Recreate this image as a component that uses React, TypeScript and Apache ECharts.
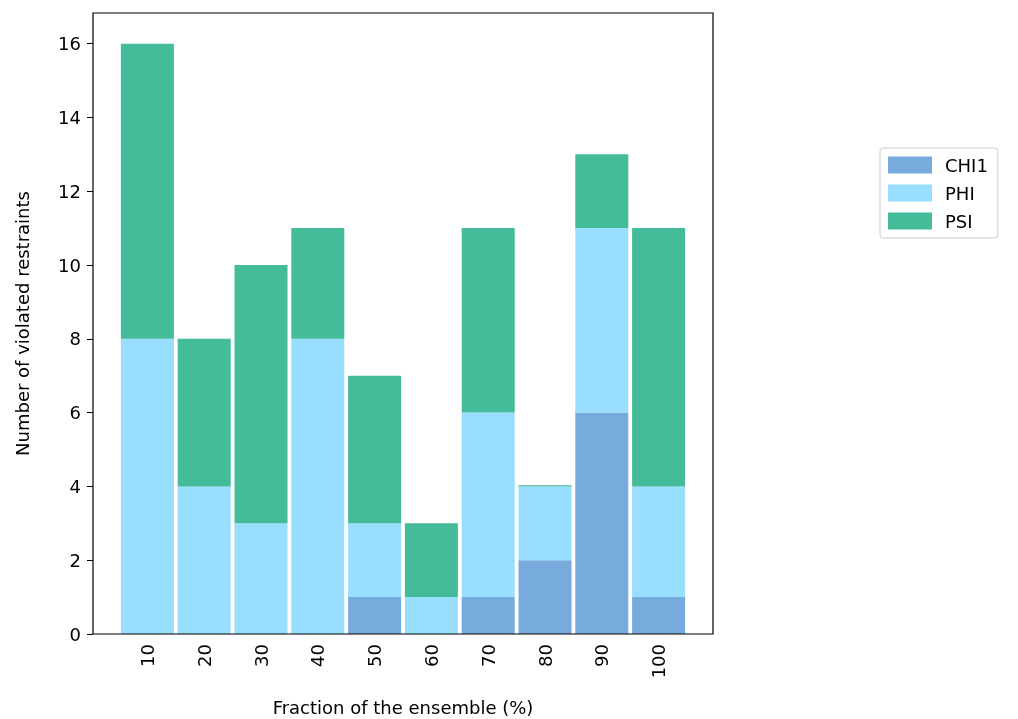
import React, { useEffect, useRef } from "react";
import * as echarts from "echarts";

const fractions = ["10", "20", "30", "40", "50", "60", "70", "80", "90", "100"];
const chi1 = [0, 0, 0, 0, 1, 0, 1, 2, 6, 1];
const phi = [8, 4, 3, 8, 2, 1, 5, 2, 5, 3];
const psi = [8, 4, 7, 3, 4, 2, 5, 0.03, 2, 7];
const xTitle = "Fraction of the ensemble (%)";

export default function App() {
  const ref = useRef<HTMLDivElement>(null);
  useEffect(() => {
    const chart = echarts.init(ref.current!, undefined, { renderer: "svg" });
    const font = "DejaVu Sans";
    const mk = (name: string, vals: number[], color: string) => ({
      name, type: "bar", stack: "s", barWidth: 53,
      data: vals,
      itemStyle: { color },
    });
    chart.setOption({
      animation: false,
      textStyle: { fontFamily: font },
      grid: { left: 119, top: 13, width: 568, height: 621, outerBoundsMode: "none", containLabel: false },
      xAxis: {
        type: "category", data: fractions,
        axisLine: { show: false },
        axisTick: { alignWithLabel: true, length: 6, lineStyle: { color: "#000" } },
        axisLabel: { rotate: 90, fontSize: 18, color: "#000", margin: 10, fontFamily: font },
      },
      yAxis: {
        type: "value", min: 0, max: 16.83, interval: 2, offset: 26,
        name: "Number of violated restraints", nameLocation: "middle", nameGap: 62,
        nameTextStyle: { fontSize: 18, color: "#000", fontFamily: font },
        splitLine: { show: false },
        axisLine: { show: false },
        axisTick: { show: true, length: 6, lineStyle: { color: "#000" } },
        axisLabel: { fontSize: 18, color: "#000", margin: 12, fontFamily: font, showMaxLabel: false },
      },
      graphic: [
        { type: "rect", shape: { x: 93, y: 13, width: 620, height: 621 }, style: { fill: "none", stroke: "#000", lineWidth: 1.2 }, z: 10 },
        { type: "text", x: 403, y: 707, style: { text: xTitle, fontSize: 18, fontFamily: font, fill: "#000", align: "center", verticalAlign: "middle" } },
      ],
      legend: {
        orient: "vertical", left: 880, top: 148, icon: "rect", itemWidth: 44, itemHeight: 17, itemGap: 10,
        padding: [8, 10, 8, 8], borderColor: "#ccc", borderWidth: 1, borderRadius: 3,
        textStyle: { fontSize: 18, color: "#000", fontFamily: font, padding: [0, 0, 0, 8] },
        data: ["CHI1", "PHI", "PSI"],
      },
      series: [mk("CHI1", chi1, "#77aadd"), mk("PHI", phi, "#99ddff"), mk("PSI", psi, "#44bb99")],
    });
    return () => chart.dispose();
  }, []);
  return <div ref={ref} style={{ position: "fixed", left: 0, top: 0, width: 1018, height: 719 }} />;
}
